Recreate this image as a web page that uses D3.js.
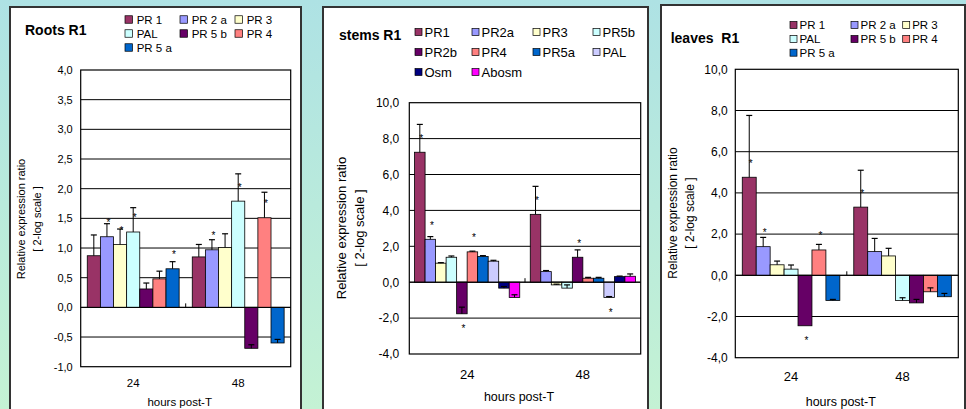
<!DOCTYPE html>
<html>
<head>
<meta charset="utf-8">
<script src="https://cdn.jsdelivr.net/npm/d3@7"></script>
<style>
  body { margin: 0; }
  svg { display: block; font-family: "Liberation Sans", Arial, sans-serif; }
</style>
</head>
<body>
<div id="chart"></div>
<script>
const hours = ['24', '48'];

// roots
const rootsGenes = ['PR 1', 'PR 2 a', 'PR 3', 'PAL', 'PR 5 b', 'PR 4', 'PR 5 a'];
const rootsColors = ['#993366', '#9999ff', '#ffffcc', '#ccffff', '#660066', '#ff8080', '#0066cc'];
const rootsValues24 = [0.87, 1.19, 1.06, 1.27, 0.31, 0.48, 0.65];
const rootsValues48 = [0.85, 0.97, 1.01, 1.79, -0.69, 1.51, -0.60];
const rootsErr24 = [0.35, 0.22, 0.26, 0.41, 0.10, 0.13, 0.12];
const rootsErr48 = [0.21, 0.17, 0.23, 0.46, 0.06, 0.43, 0.06];
const rootsStar24 = [0, 1, 1, 1, 0, 0, 1];
const rootsStar48 = [0, 1, 0, 1, 0, 1, 0];

// stems
const stemsGenes = ['PR1', 'PR2a', 'PR3', 'PR5b', 'PR2b', 'PR4', 'PR5a', 'PAL', 'Osm', 'Abosm'];
const stemsColors = ['#993366', '#9999ff', '#ffffcc', '#ccffff', '#660066', '#ff8080', '#0066cc', '#ccccff', '#000080', '#ff00ff'];
const stemsValues24 = [7.24, 2.39, 1.06, 1.39, -1.76, 1.69, 1.43, 1.17, -0.33, -0.85];
const stemsValues48 = [3.78, 0.59, -0.15, -0.33, 1.39, 0.22, 0.22, -0.85, 0.31, 0.33];
const stemsErr24 = [1.55, 0.15, 0.03, 0.07, 0.37, 0.04, 0.05, 0.05, 0.09, 0.15];
const stemsErr48 = [1.56, 0.06, 0.04, 0.18, 0.41, 0.05, 0.05, 0.05, 0.03, 0.13];
const stemsStar24 = [1, 1, 0, 0, 1, 1, 0, 0, 0, 0];
const stemsStar48 = [1, 0, 0, 0, 1, 0, 0, 1, 0, 0];

// leaves
const leavesGenes = ['PR 1', 'PR 2 a', 'PR 3', 'PAL', 'PR 5 b', 'PR 4', 'PR 5 a'];
const leavesColors = rootsColors;
const leavesValues24 = [4.76, 1.39, 0.51, 0.30, -2.45, 1.23, -1.22];
const leavesValues48 = [3.31, 1.15, 0.94, -1.22, -1.34, -0.80, -1.04];
const leavesErr24 = [3.00, 0.45, 0.18, 0.20, 0, 0.27, 0.05];
const leavesErr48 = [1.79, 0.64, 0.37, 0.13, 0.17, 0.19, 0.16];
const leavesStar24 = [1, 1, 0, 0, 1, 1, 0];
const leavesStar48 = [1, 0, 0, 0, 0, 0, 0];

const commaFmt = d3.formatLocale({decimal: ',', thousands: '.', grouping: [3], currency: ['', ''], minus: '-'}).format('.1f');

const svg = d3.select('#chart').append('svg')
  .attr('width', 966)
  .attr('height', 409);

const defs = svg.append('defs');
const grad = defs.append('linearGradient')
  .attr('id', 'bg').attr('x1', 0).attr('y1', 0).attr('x2', 0).attr('y2', 1);
grad.append('stop').attr('offset', '0%').attr('stop-color', '#aee2e4');
grad.append('stop').attr('offset', '100%').attr('stop-color', '#c4f2d4');
svg.append('rect').attr('width', 966).attr('height', 409).attr('fill', 'url(#bg)');

function drawPanel(p) {
  const g = svg.append('g');
  g.append('rect')
    .attr('x', p.box[0]).attr('y', p.box[1])
    .attr('width', p.box[2]).attr('height', p.box[3])
    .attr('fill', '#fff').attr('stroke', '#333').attr('stroke-width', 2);

  const bottom = p.plot.y + p.plot.h;
  const y = d3.scaleLinear().domain(p.domain).range([bottom, p.plot.y]);
  const x0 = d3.scaleBand().domain(hours).range([p.plot.x, p.plot.x + p.plot.w]);
  const n = p.genes.length;
  const gap = x0.bandwidth() / (n + 1);
  const x1 = d3.scaleBand().domain(d3.range(n)).range([gap / 2, x0.bandwidth() - gap / 2]);

  const ticks = d3.range(p.domain[0], p.domain[1] + p.step / 2, p.step);

  // gridlines
  g.selectAll('line.grid')
    .data(ticks.slice(1, -1))
    .join('line')
    .attr('class', 'grid')
    .attr('x1', p.plot.x).attr('x2', p.plot.x + p.plot.w)
    .attr('y1', d => y(d)).attr('y2', d => y(d))
    .attr('stroke', '#000').attr('stroke-width', 1);

  // y axis labels
  const ya = g.append('g')
    .attr('transform', `translate(${p.plot.x},0)`)
    .call(d3.axisLeft(y).tickValues(ticks).tickSize(0).tickPadding(p.tickPad).tickFormat(commaFmt));
  ya.select('.domain').remove();
  ya.selectAll('text').attr('font-size', p.tickFont).attr('fill', '#000')
    .attr('font-family', '"Liberation Sans", Arial, sans-serif');

  // category labels
  const xa = g.append('g')
    .attr('transform', `translate(0,${bottom})`)
    .call(d3.axisBottom(x0).tickSize(0).tickPadding(p.catPad));
  xa.select('.domain').remove();
  xa.selectAll('text').attr('font-size', p.catFont).attr('fill', '#000')
    .attr('font-family', '"Liberation Sans", Arial, sans-serif');

  const rows = [];
  hours.forEach((h, hi) => {
    p.values[hi].forEach((v, i) => {
      rows.push({h: h, i: i, v: v, e: p.errs[hi][i], star: p.stars[hi][i]});
    });
  });
  const cx = d => x0(d.h) + x1(d.i) + x1.bandwidth() / 2;

  g.selectAll('rect.bar')
    .data(rows)
    .join('rect')
    .attr('class', 'bar')
    .attr('x', d => x0(d.h) + x1(d.i))
    .attr('width', x1.bandwidth())
    .attr('y', d => y(Math.max(0, d.v)))
    .attr('height', d => Math.abs(y(d.v) - y(0)))
    .attr('fill', d => p.colors[d.i])
    .attr('stroke', '#000').attr('stroke-width', 0.8);

  // error bars (plus direction only)
  const eb = g.selectAll('g.err')
    .data(rows.filter(d => d.e > 0))
    .join('g').attr('class', 'err');
  eb.append('line')
    .attr('x1', cx).attr('x2', cx)
    .attr('y1', d => y(d.v)).attr('y2', d => y(d.v + d.e))
    .attr('stroke', '#000').attr('stroke-width', 1);
  eb.append('line')
    .attr('x1', d => cx(d) - 3).attr('x2', d => cx(d) + 3)
    .attr('y1', d => y(d.v + d.e)).attr('y2', d => y(d.v + d.e))
    .attr('stroke', '#000').attr('stroke-width', 1.2);

  // zero line and frame
  g.append('line')
    .attr('x1', p.plot.x).attr('x2', p.plot.x + p.plot.w)
    .attr('y1', y(0)).attr('y2', y(0))
    .attr('stroke', '#000').attr('stroke-width', 1);
  g.append('line')
    .attr('x1', x0('48')).attr('x2', x0('48'))
    .attr('y1', y(0) - 4).attr('y2', y(0))
    .attr('stroke', '#000').attr('stroke-width', 1);
  g.append('rect')
    .attr('x', p.plot.x).attr('y', p.plot.y)
    .attr('width', p.plot.w).attr('height', p.plot.h)
    .attr('fill', 'none').attr('stroke', '#000').attr('stroke-width', 1.2);

  // significance stars
  g.selectAll('text.star')
    .data(rows.filter(d => d.star))
    .join('text')
    .attr('class', 'star')
    .attr('x', d => cx(d) + 1.5)
    .attr('y', d => d.v >= 0 ? y(d.v) - 16 + 5.5 : y(d.v) + 13 + 5.5)
    .attr('text-anchor', 'middle')
    .attr('font-size', 10)
    .text('*');

  // title
  g.append('text')
    .attr('x', p.title.x).attr('y', p.title.y)
    .attr('font-size', 14).attr('font-weight', 'bold')
    .style('white-space', 'pre')
    .text(p.title.text);

  // legend
  const leg = g.selectAll('g.leg')
    .data(p.genes)
    .join('g').attr('class', 'leg')
    .attr('transform', (d, i) => `translate(${p.legend.cols[i % p.legend.cols.length]},${p.legend.rows[Math.floor(i / p.legend.cols.length)]})`);
  leg.append('rect')
    .attr('x', 0).attr('y', -p.legend.sq / 2)
    .attr('width', p.legend.sq).attr('height', p.legend.sq)
    .attr('fill', (d, i) => p.colors[i])
    .attr('stroke', '#000').attr('stroke-width', 0.7);
  leg.append('text')
    .attr('x', p.legend.textDx).attr('y', p.legend.font * 0.36)
    .attr('font-size', p.legend.font)
    .text(d => d);

  // axis titles (the label box may cut the text off at the top)
  let clipId = null;
  if (p.ylab.clipTop) {
    clipId = 'clip' + Math.round(p.box[0]);
    defs.append('clipPath').attr('id', clipId)
      .append('rect')
      .attr('x', p.box[0]).attr('y', p.ylab.clipTop)
      .attr('width', 60).attr('height', 300);
  }
  const ylg = g.append('g').attr('clip-path', clipId ? `url(#${clipId})` : null);
  ylg.append('text')
    .attr('transform', `translate(${p.ylab.x1},${p.ylab.cy}) rotate(-90)`)
    .attr('text-anchor', 'middle')
    .attr('font-size', p.ylab.font)
    .text('Relative expression ratio');
  ylg.append('text')
    .attr('transform', `translate(${p.ylab.x2},${p.ylab.cy}) rotate(-90)`)
    .attr('text-anchor', 'middle')
    .attr('font-size', p.ylab.font)
    .text('[ 2-log scale ]');
  g.append('text')
    .attr('x', p.plot.x + p.plot.w / 2 - 6).attr('y', p.xlab.y)
    .attr('text-anchor', 'middle')
    .attr('font-size', p.xlab.font)
    .text('hours post-T');
}

drawPanel({
  box: [10, 7, 291, 420],
  plot: {x: 80.7, y: 70, w: 210, h: 296.7},
  domain: [-1, 4], step: 0.5,
  genes: rootsGenes, colors: rootsColors,
  values: [rootsValues24, rootsValues48],
  errs: [rootsErr24, rootsErr48],
  stars: [rootsStar24, rootsStar48],
  tickFont: 11, tickPad: 8,
  catFont: 11.5, catPad: 12,
  title: {x: 25, y: 35, text: 'Roots R1'},
  legend: {cols: [125, 180, 235], rows: [19.5, 33.5, 47.5], sq: 7.5, textDx: 11.7, font: 11.5},
  ylab: {x1: 25, x2: 41, cy: 219, font: 11, clipTop: 159},
  xlab: {y: 406, font: 11.5}
});

drawPanel({
  box: [323, 7, 325, 420],
  plot: {x: 409.3, y: 102.7, w: 231.4, h: 251.3},
  domain: [-4, 10], step: 2,
  genes: stemsGenes, colors: stemsColors,
  values: [stemsValues24, stemsValues48],
  errs: [stemsErr24, stemsErr48],
  stars: [stemsStar24, stemsStar48],
  tickFont: 12, tickPad: 10,
  catFont: 13, catPad: 16,
  title: {x: 339, y: 40, text: 'stems R1'},
  legend: {cols: [415, 472, 533, 593], rows: [32, 52, 72], sq: 7, textDx: 9.5, font: 13},
  ylab: {x1: 346, x2: 364, cy: 228, font: 13},
  xlab: {y: 401, font: 12.5}
});

drawPanel({
  box: [661, 5, 304, 420],
  plot: {x: 735.3, y: 69.3, w: 223, h: 288.4},
  domain: [-4, 10], step: 2,
  genes: leavesGenes, colors: leavesColors,
  values: [leavesValues24, leavesValues48],
  errs: [leavesErr24, leavesErr48],
  stars: [leavesStar24, leavesStar48],
  tickFont: 12, tickPad: 7.6,
  catFont: 13, catPad: 14,
  title: {x: 670.7, y: 42.5, text: 'leaves  R1'},
  legend: {cols: [790, 851, 902.7], rows: [25, 39, 52.7], sq: 7, textDx: 9.5, font: 11.5},
  ylab: {x1: 677, x2: 694, cy: 213, font: 12},
  xlab: {y: 406, font: 12.5}
});
</script>
</body>
</html>
